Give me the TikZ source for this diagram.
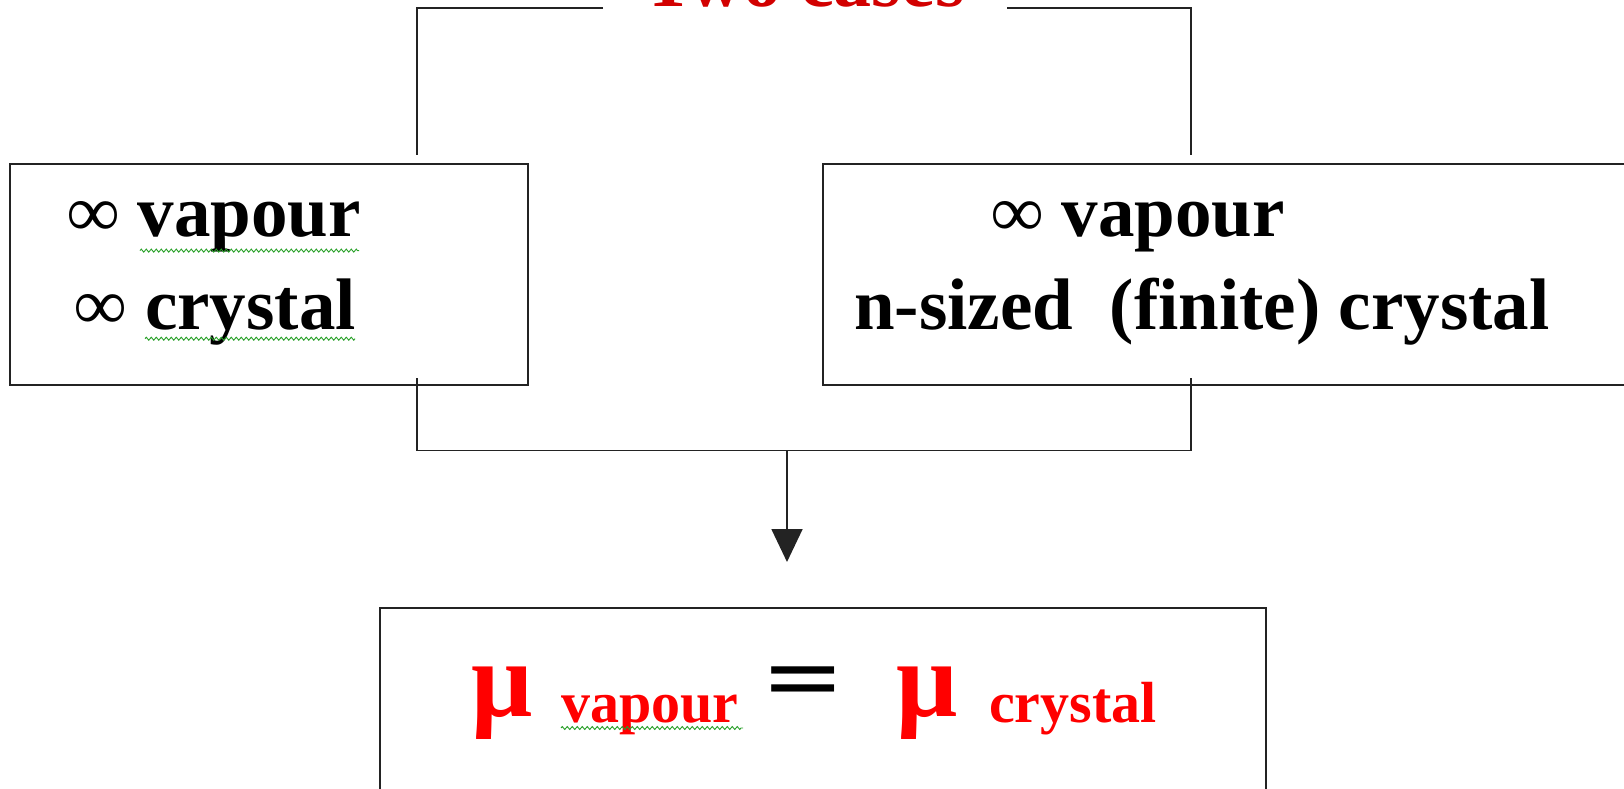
\documentclass[tikz,border=0pt]{standalone}
\usepackage{fontspec}
\setmainfont{Liberation Serif}
\newfontfamily\eqfont{Liberation Sans}
\usetikzlibrary{arrows.meta,decorations.pathmorphing}
\definecolor{titlered}{RGB}{210,0,0}
\definecolor{formred}{RGB}{255,0,0}
\definecolor{wavygreen}{RGB}{40,160,40}
\definecolor{linegray}{RGB}{35,35,35}
\begin{document}
\begin{tikzpicture}[x=1pt,y=-1pt,
  box/.style={draw=linegray, line width=2pt, rectangle, inner sep=0pt},
  conn/.style={draw=linegray, line width=1.8pt},
  txt/.style={inner sep=0pt, anchor=base west, font=\bfseries\fontsize{73}{80}\selectfont},
  titletxt/.style={inner sep=0pt, anchor=base, text=titlered, font=\bfseries\fontsize{76}{84}\selectfont},
  mutxt/.style={inner sep=0pt, anchor=base west, text=formred, font=\bfseries\fontsize{108}{110}\selectfont},
  subtxt/.style={inner sep=0pt, anchor=base west, text=formred, font=\bfseries\fontsize{58}{64}\selectfont},
  eqtxt/.style={inner sep=0pt, anchor=base west, text=black, font=\eqfont\bfseries\fontsize{115}{120}\selectfont},
  wavy/.style={draw=wavygreen, line width=0.9pt, decorate, decoration={zigzag, amplitude=1.5pt, segment length=5pt}}
]
\useasboundingbox (0,0) rectangle (1624,789);

% boxes
\node[box, minimum width=517.6pt, minimum height=221.4pt] (L) at (269.2,274.3) {};
\node[box, minimum width=817pt, minimum height=221.4pt] (R) at (1231.5,274.3) {};
\node[box, minimum width=886pt, minimum height=212pt] (B) at (823,714) {};

% title (mostly above the picture)
\node[titletxt] (T) at (804,7) {Two cases};

% box texts
\node[txt] (l1) at (67,236) {∞ vapour};
\node[txt] (l2) at (74.6,329) {∞ crystal};
\node[txt] (r1) at (991,236) {∞ vapour};
\node[txt] (r2) at (854,329) {n-sized\ \ (finite) crystal};

% formula
\node[mutxt] (m1) at (471,716) {μ};
\node[subtxt] (s1) at (561,722) {vapour};
\node[eqtxt] (eq) at (766,701) {\scalebox{1.09}[0.58]{=}};
\node[mutxt] (m2) at (896,716) {μ};
\node[subtxt] (s2) at (989,722) {crystal};

% spell-check underlines
\draw[wavy] (140,250.6) -- (359,250.6);
\draw[wavy] (145,338.7) -- (355,338.7);
\draw[wavy] (561,728) -- (743,728);

% connectors
\coordinate (tl) at (603,8.3);
\coordinate (tr) at (1007,8.3);
\coordinate (lt) at (417,155);
\coordinate (rt) at (1191,155);
\draw[conn] (tl) -| (lt);
\draw[conn] (tr) -| (rt);
\coordinate (lb) at (417,378);
\coordinate (rb) at (1191,378);
\coordinate (mid) at (787,450.5);
\coordinate (tip) at (787,562);
\draw[conn] (lb) |- (mid) -| (rb);
\draw[conn, -{Triangle[width=31pt,length=33pt]}] (mid) -- (tip);
\end{tikzpicture}
\end{document}
